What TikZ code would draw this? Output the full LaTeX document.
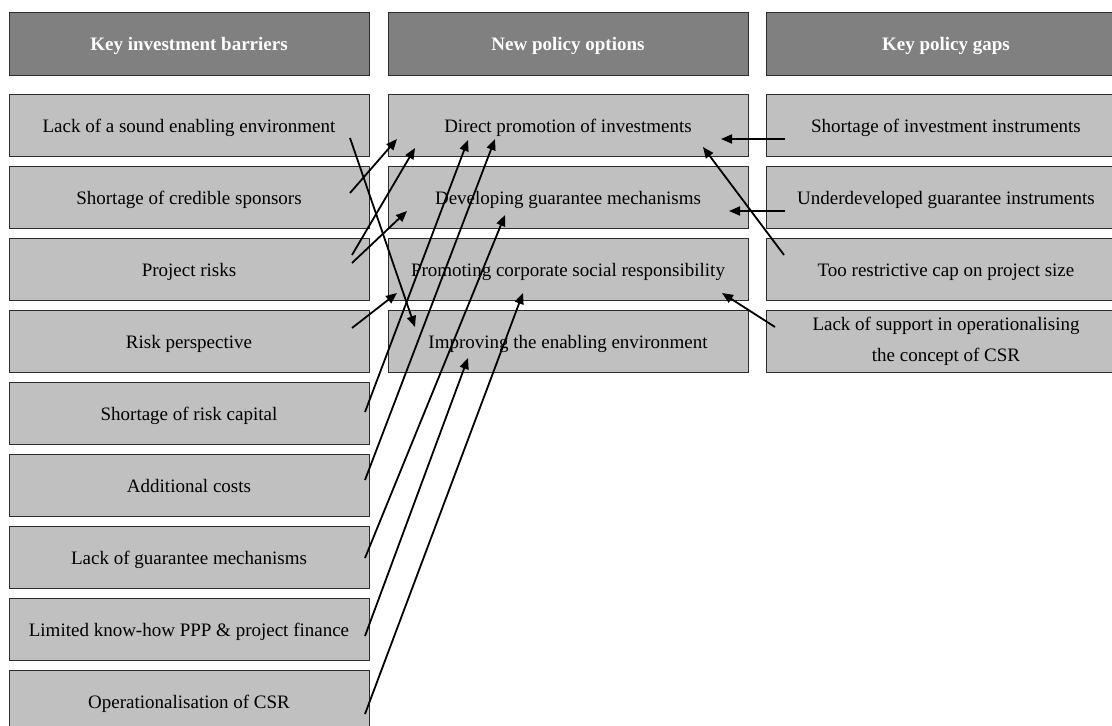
\documentclass[tikz,border=0pt]{standalone}
\usepackage{fontspec}
\setmainfont{Liberation Serif}
\usepackage{tikz}
\usetikzlibrary{arrows.meta}
\definecolor{headgray}{RGB}{128,128,128}
\definecolor{boxgray}{RGB}{192,192,192}
\definecolor{edgegray}{RGB}{45,45,45}

\begin{document}
\begin{tikzpicture}[x=1pt, y=-1pt, >={Triangle[length=11pt,width=9pt]},
  head/.style={draw=edgegray, fill=headgray, text=white, font=\fontsize{19}{23}\selectfont\bfseries,
    minimum width=360pt, minimum height=63pt, inner sep=0pt, outer sep=0pt,
    text height=18pt, text depth=4pt},
  item/.style={draw=edgegray, fill=boxgray, font=\fontsize{19}{30}\selectfont, align=center,
    minimum width=360pt, minimum height=62pt, inner sep=0pt, outer sep=0pt,
    text height=18pt, text depth=4pt},
  link/.style={->, line width=1.8pt}]
  \useasboundingbox (0,0) rectangle (1112,726);

  % Headers
  \node[head] (hb) at (189,43.5) {Key investment barriers};
  \node[head] (hp) at (568,43.5) {New policy options};
  \node[head] (hg) at (946,43.5) {Key policy gaps};

  % Barriers
  \node[item] (b1) at (189,125) {Lack of a sound enabling environment};
  \node[item] (b2) at (189,197) {Shortage of credible sponsors};
  \node[item] (b3) at (189,269) {Project risks};
  \node[item] (b4) at (189,341) {Risk perspective};
  \node[item] (b5) at (189,413) {Shortage of risk capital};
  \node[item] (b6) at (189,485) {Additional costs};
  \node[item] (b7) at (189,557) {Lack of guarantee mechanisms};
  \node[item] (b8) at (189,629) {Limited know-how PPP \& project finance};
  \node[item] (b9) at (189,701) {Operationalisation of CSR};

  % Policy options
  \node[item] (p1) at (568,125) {Direct promotion of investments};
  \node[item] (p2) at (568,197) {Developing guarantee mechanisms};
  \node[item] (p3) at (568,269) {Promoting corporate social responsibility};
  \node[item] (p4) at (568,341) {Improving the enabling environment};

  % Policy gaps
  \node[item] (g1) at (946,125) {Shortage of investment instruments};
  \node[item] (g2) at (946,197) {Underdeveloped guarantee instruments};
  \node[item] (g3) at (946,269) {Too restrictive cap on project size};
  \node[item, text height=, text depth=] (g4) at (946,341)
    {Lack of support in operationalising\\[1pt]the concept\ of CSR};

  % Barriers to options
  \draw[link] ([shift={(161,13)}]b1.center) -- ([shift={(-153,-14)}]p4.center);
  \draw[link] ([shift={(161,-4)}]b2.center) -- ([shift={(-171,14)}]p1.center);
  \draw[link] ([shift={(163,-14)}]b3.center) -- ([shift={(-153,23)}]p1.center);
  \draw[link] ([shift={(163,-6)}]b3.center) -- ([shift={(-161,14)}]p2.center);
  \draw[link] ([shift={(163,-13)}]b4.center) -- ([shift={(-171,24)}]p3.center);
  \draw[link] ([shift={(176,-1)}]b5.center) -- ([shift={(-100,15)}]p1.center);
  \draw[link] ([shift={(176,-5)}]b6.center) -- ([shift={(-73,14)}]p1.center);
  \draw[link] ([shift={(176,1)}]b7.center) -- ([shift={(-63,18)}]p2.center);
  \draw[link] ([shift={(176,7)}]b8.center) -- ([shift={(-100,17)}]p4.center);
  \draw[link] ([shift={(176,13)}]b9.center) -- ([shift={(-45,24)}]p3.center);

  % Gaps to options
  \draw[link] ([shift={(-161,14)}]g1.center) -- ([shift={(153,14)}]p1.center);
  \draw[link] ([shift={(-161,14)}]g2.center) -- ([shift={(161,14)}]p2.center);
  \draw[link] ([shift={(-162,-14)}]g3.center) -- ([shift={(135,22)}]p1.center);
  \draw[link] ([shift={(-171,-14)}]g4.center) -- ([shift={(154,24)}]p3.center);
\end{tikzpicture}
\end{document}
